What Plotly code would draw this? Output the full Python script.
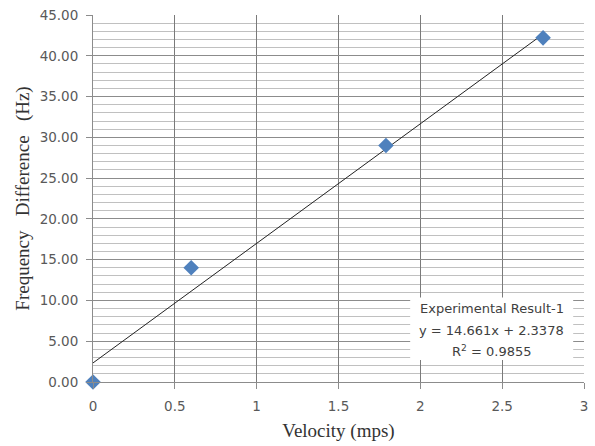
import plotly.graph_objects as go

velocity = [0.0, 0.6, 1.79, 2.75]
freq_diff = [0.0, 14.0, 29.0, 42.2]
slope = 14.661
intercept = 2.3378
r2 = 0.9855
x_ticks = [0, 0.5, 1, 1.5, 2, 2.5, 3]
x_tick_labels = ["0", "0.5", "1", "1.5", "2", "2.5", "3"]
y_ticks = [0, 5, 10, 15, 20, 25, 30, 35, 40, 45]
y_tick_labels = ["%.2f" % v for v in y_ticks]
legend_lines = ["Experimental Result-1",
                "y = 14.661x + 2.3378",
                "R<sup>2</sup> = 0.9855"]

trend_x = [0.0, max(velocity)]
trend_y = [slope * v + intercept for v in trend_x]

fig = go.Figure()
fig.add_trace(go.Scatter(x=trend_x, y=trend_y, mode="lines",
                         line=dict(color="#222222", width=1), showlegend=False,
                         hoverinfo="skip"))
fig.add_trace(go.Scatter(x=velocity, y=freq_diff, mode="markers", cliponaxis=False,
                         marker=dict(symbol="diamond", size=12, color="#4F81BD"),
                         showlegend=False))

tick_font = dict(family="DejaVu Sans, sans-serif", size=13.5, color="#595959")
title_font = dict(family="Liberation Serif, serif", size=19, color="#333333")
sp = "\u00a0\u00a0\u00a0"

fig.update_xaxes(range=[0, 3], tickvals=x_ticks, ticktext=x_tick_labels,
                 showgrid=True, gridcolor="#7a7a7a", gridwidth=1,
                 showline=True, linecolor="#8c8c8c", linewidth=1,
                 ticks="outside", ticklen=6, tickcolor="#8c8c8c",
                 ticklabelstandoff=6,
                 zeroline=False, tickfont=tick_font,
                 title=dict(text="Velocity (mps)", font=title_font, standoff=10))
fig.update_yaxes(range=[0, 45], tickvals=y_ticks, ticktext=y_tick_labels,
                 showgrid=True, gridcolor="#8c8c8c", gridwidth=1,
                 minor=dict(dtick=1, showgrid=True, gridcolor="#c0c0c0", gridwidth=1),
                 showline=True, linecolor="#8c8c8c", linewidth=1,
                 ticks="outside", ticklen=6, tickcolor="#8c8c8c",
                 ticklabelstandoff=5,
                 zeroline=False, tickfont=tick_font,
                 title=dict(text="Frequency" + sp + "Difference" + sp + "(Hz)",
                            font=title_font, standoff=4))

fig.add_shape(type="rect", xref="paper", yref="paper", x0=0.646, x1=0.978,
              y0=0.06, y1=0.23, fillcolor="white", line=dict(width=0), layer="above")
for txt, yy in zip(legend_lines, [0.2005, 0.141, 0.084]):
    fig.add_annotation(xref="paper", yref="paper", x=0.812, y=yy,
                       xanchor="center", yanchor="middle",
                       text=txt, showarrow=False, align="center",
                       font=dict(family="DejaVu Sans, sans-serif", size=13, color="#404040"))

fig.update_layout(width=595, height=446, margin=dict(l=93, r=7, t=13, b=64),
                  plot_bgcolor="white", paper_bgcolor="white")
fig.write_html("out.html")
